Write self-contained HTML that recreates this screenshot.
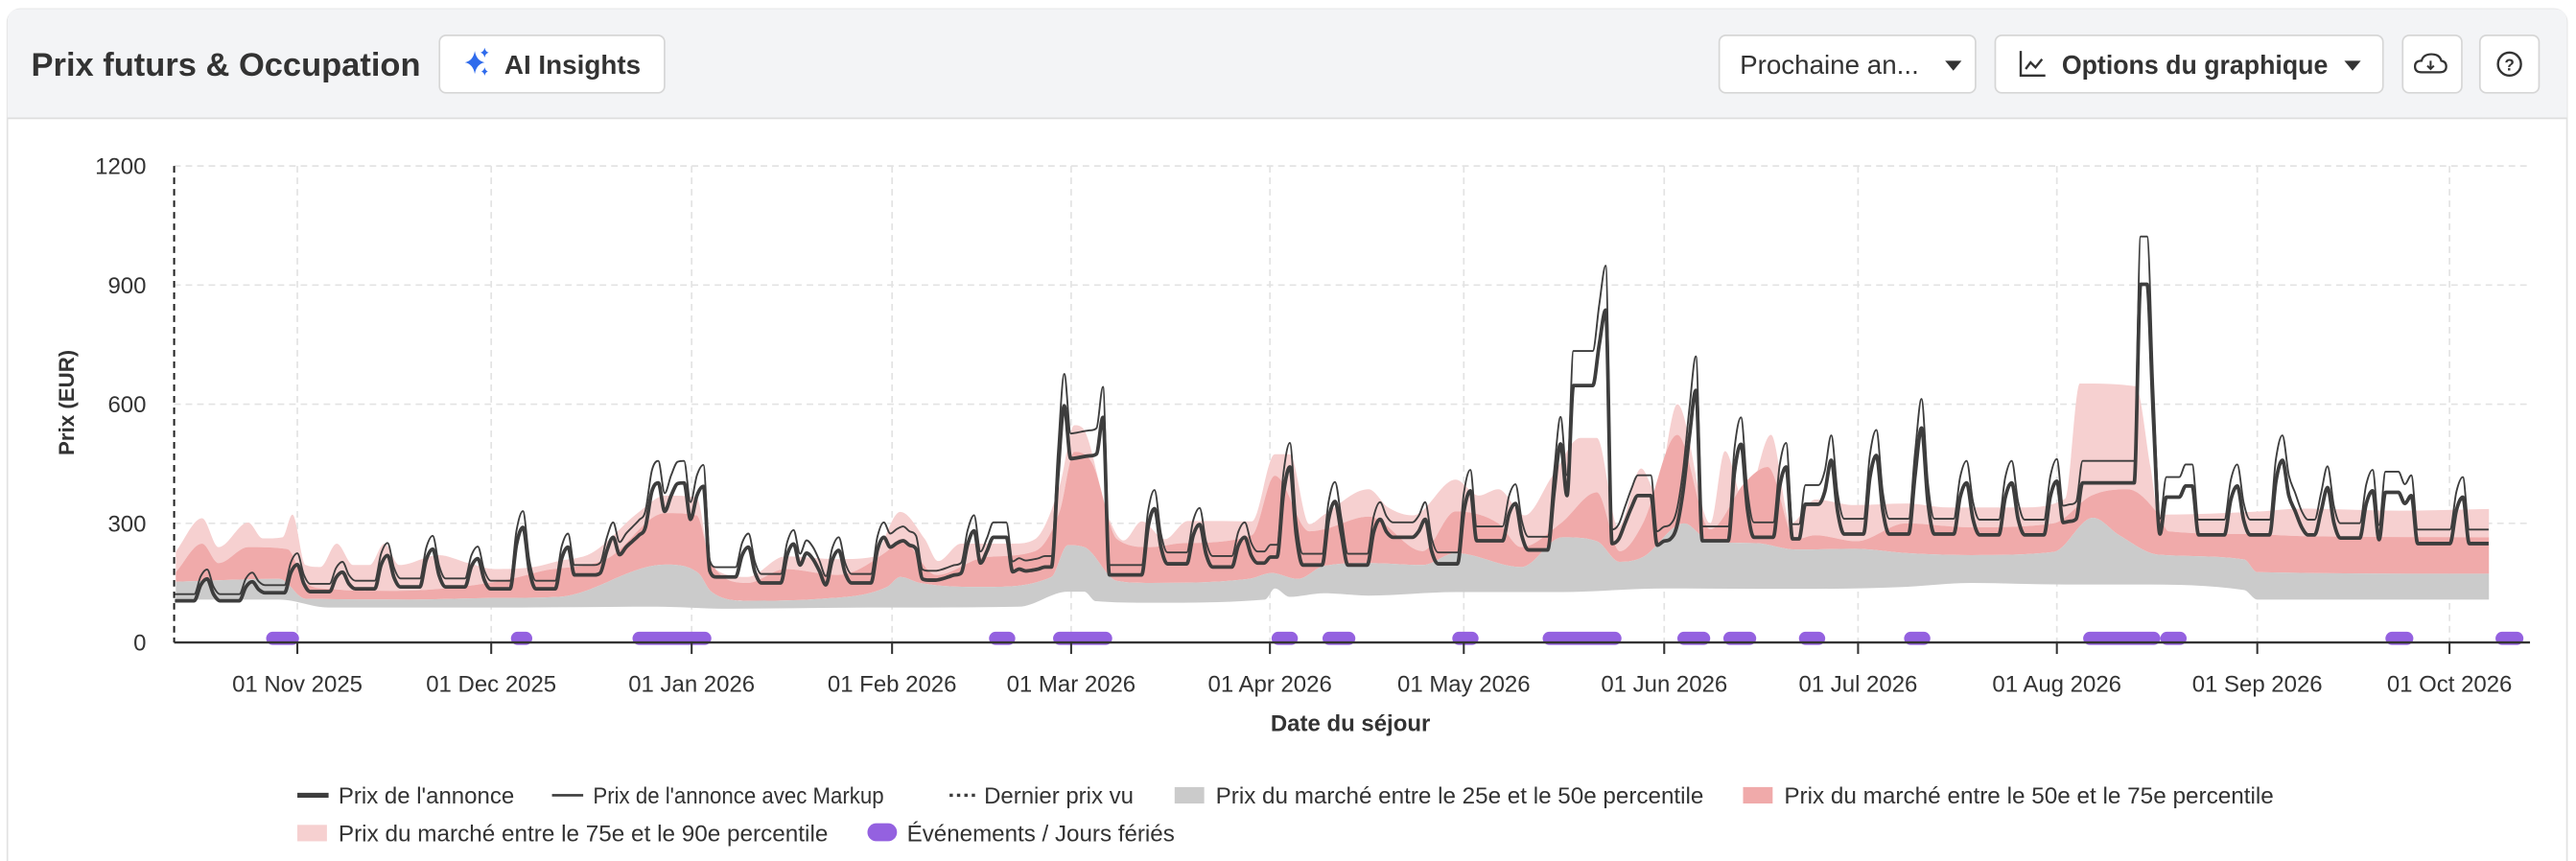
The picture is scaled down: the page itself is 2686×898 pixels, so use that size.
<!DOCTYPE html>
<html><head><meta charset="utf-8">
<style>
html,body{margin:0;padding:0;background:#fff;}
svg{display:block;}
text{font-family:"Liberation Sans",sans-serif;fill:#333;}
</style></head>
<body>
<svg id="s" width="2686" height="898" viewBox="0 0 1568 524" preserveAspectRatio="none" xmlns="http://www.w3.org/2000/svg">
<rect x="0" y="0" width="1568" height="524" fill="#fff"/>
<rect x="4.5" y="5.5" width="1558" height="540" rx="8" fill="#fff" stroke="#e2e2e2"/>
<path d="M4.5 72 V13.5 Q4.5 5.5 12.5 5.5 H1554.5 Q1562.5 5.5 1562.5 13.5 V72 Z" fill="#f3f4f6"/>
<line x1="4.5" y1="72" x2="1562.5" y2="72" stroke="#dedede"/>
<text x="19" y="46" font-size="20" font-weight="bold" textLength="237" lengthAdjust="spacingAndGlyphs">Prix futurs &amp; Occupation</text>
<rect x="267.5" y="21.5" width="137" height="35" rx="4" fill="#fff" stroke="#d6d6d6"/>
<path d="M289 31 Q290 37 295 38 Q290 39 289 45 Q288 39 283 38 Q288 37 289 31 Z" fill="#2f6bec"/>
<path d="M295 29 Q295.5 31.5 297.5 32 Q295.5 32.5 295 35 Q294.5 32.5 292.5 32 Q294.5 31.5 295 29 Z" fill="#2f6bec"/>
<path d="M295 41 Q295.5 43 297 43.5 Q295.5 44 295 46 Q294.5 44 293 43.5 Q294.5 43 295 41 Z" fill="#2f6bec"/>
<text x="307" y="45" font-size="16" font-weight="bold" textLength="83" lengthAdjust="spacingAndGlyphs">AI Insights</text>
<rect x="1046.5" y="21.5" width="156" height="35" rx="4" fill="#fff" stroke="#d6d6d6"/>
<text x="1059" y="45" font-size="16" textLength="109" lengthAdjust="spacingAndGlyphs">Prochaine an...</text>
<path d="M1184 37 L1194 37 L1189 43 Z" fill="#333"/>
<rect x="1214.5" y="21.5" width="236" height="35" rx="4" fill="#fff" stroke="#d6d6d6"/>
<path d="M1230 31 V46 H1245 M1233 42 L1236 38 L1239 41 L1243 36" fill="none" stroke="#333" stroke-width="1.4"/>
<text x="1255" y="45" font-size="16" font-weight="bold" textLength="162" lengthAdjust="spacingAndGlyphs">Options du graphique</text>
<path d="M1427 37 L1437 37 L1432 43 Z" fill="#333"/>
<rect x="1462.5" y="21.5" width="36" height="35" rx="4" fill="#fff" stroke="#d6d6d6"/>
<path d="M1474 44 Q1470 44 1470 40.5 Q1470 37 1474 37 Q1475 33 1480 33 Q1485 33 1486 37 Q1489 37.5 1489 40.5 Q1489 44 1485 44 Z" fill="none" stroke="#333" stroke-width="1.3"/>
<path d="M1479.5 37 V42 M1477.5 40 L1479.5 42 L1481.5 40" fill="none" stroke="#333" stroke-width="1.2"/>
<rect x="1509.5" y="21.5" width="36" height="35" rx="4" fill="#fff" stroke="#d6d6d6"/>
<circle cx="1527.5" cy="39" r="7" fill="none" stroke="#333" stroke-width="1.4"/>
<text x="1527.5" y="43" font-size="10" font-weight="bold" text-anchor="middle">?</text>
<g id="grid"></g>
<g id="bands"></g>
<g id="lines"></g>
<g id="events"></g>
<g id="axes"></g>
<g id="legend">
<line x1="181" y1="484" x2="200" y2="484" stroke="#3d3d3d" stroke-width="3"/>
<text x="206" y="489" font-size="14" textLength="107" lengthAdjust="spacingAndGlyphs">Prix de l'annonce</text>
<line x1="336" y1="484" x2="355" y2="484" stroke="#3d3d3d" stroke-width="1.5"/>
<text x="361" y="489" font-size="14" textLength="177" lengthAdjust="spacingAndGlyphs">Prix de l'annonce avec Markup</text>
<line x1="578" y1="484" x2="594" y2="484" stroke="#3d3d3d" stroke-width="2" stroke-dasharray="2 2.5"/>
<text x="599" y="489" font-size="14" textLength="91" lengthAdjust="spacingAndGlyphs">Dernier prix vu</text>
<rect x="715" y="479" width="18" height="10" fill="#cbcbcb"/>
<text x="740" y="489" font-size="14" textLength="297" lengthAdjust="spacingAndGlyphs">Prix du marché entre le 25e et le 50e percentile</text>
<rect x="1061" y="479" width="18" height="10" fill="#f0aaaa"/>
<text x="1086" y="489" font-size="14" textLength="298" lengthAdjust="spacingAndGlyphs">Prix du marché entre le 50e et le 75e percentile</text>
<rect x="181" y="502" width="18" height="10" fill="#f6d0d0"/>
<text x="206" y="512" font-size="14" textLength="298" lengthAdjust="spacingAndGlyphs">Prix du marché entre le 75e et le 90e percentile</text>
<rect x="528" y="501" width="18" height="11" rx="5.5" fill="#9461e0"/>
<text x="552" y="512" font-size="14" textLength="163" lengthAdjust="spacingAndGlyphs">Événements / Jours fériés</text>
</g>
</svg>
<script>
var NS="http://www.w3.org/2000/svg";
function el(p,t,a,txt){var e=document.createElementNS(NS,t);for(var k in a)e.setAttribute(k,a[k]);if(txt!==undefined)e.textContent=txt;document.getElementById(p).appendChild(e);return e;}
function X(d){return 181+d*3.923;}
function Y(v){return 391-v*0.24167;}
function mono(pts,start){
 var n=pts.length,dx=[],m=[],t=[];
 for(var i=0;i<n-1;i++){dx[i]=pts[i+1][0]-pts[i][0];m[i]=(pts[i+1][1]-pts[i][1])/dx[i];}
 t[0]=m[0];t[n-1]=m[n-2];
 for(i=1;i<n-1;i++){t[i]=(m[i-1]*m[i]<=0)?0:(m[i-1]+m[i])/2;}
 for(i=0;i<n-1;i++){if(m[i]===0){t[i]=0;t[i+1]=0;continue;}var a=t[i]/m[i],b=t[i+1]/m[i],s=a*a+b*b;if(s>9){var tau=3/Math.sqrt(s);t[i]=tau*a*m[i];t[i+1]=tau*b*m[i];}}
 var d=(start?"M":"L")+pts[0][0].toFixed(2)+" "+pts[0][1].toFixed(2);
 for(i=0;i<n-1;i++){var h=dx[i]/3;d+=" C"+(pts[i][0]+h).toFixed(2)+" "+(pts[i][1]+t[i]*h).toFixed(2)+" "+(pts[i+1][0]-h).toFixed(2)+" "+(pts[i+1][1]-t[i+1]*h).toFixed(2)+" "+pts[i+1][0].toFixed(2)+" "+pts[i+1][1].toFixed(2);}
 return d;}
var months=[["01 Nov 2025",181],["01 Dec 2025",299],["01 Jan 2026",421],["01 Feb 2026",543],["01 Mar 2026",652],["01 Apr 2026",773],["01 May 2026",891],["01 Jun 2026",1013],["01 Jul 2026",1131],["01 Aug 2026",1252],["01 Sep 2026",1374],["01 Oct 2026",1491]];
[1200,900,600,300].forEach(function(v){el("grid","line",{x1:106,x2:1540,y1:Y(v),y2:Y(v),stroke:"#e3e3e3","stroke-width":1,"stroke-dasharray":"4 3"});});
months.forEach(function(m){el("grid","line",{x1:m[1],x2:m[1],y1:101,y2:391,stroke:"#e3e3e3","stroke-width":1,"stroke-dasharray":"4 3"});});
var P90=[[107,229],[123,313],[133,240],[151,302],[160,262],[172,265],[178,322],[186,195],[195,190],[205,249],[215,195],[225,195],[234,249],[243,195],[267,220],[285,200],[301,185],[325,190],[340,205],[360,225],[389,329],[405,370],[424,365],[433,193],[455,165],[478,217],[510,210],[531,215],[548,329],[563,260],[571,205],[585,249],[617,249],[630,260],[645,394],[654,547],[659,540],[675,313],[684,257],[695,305],[709,260],[723,306],[743,306],[762,305],[776,474],[785,474],[797,298],[806,322],[833,386],[845,340],[860,320],[886,410],[900,370],[912,386],[928,320],[945,420],[962,515],[972,515],[985,290],[999,438],[1008,380],[1021,600],[1041,300],[1050,482],[1062,350],[1078,523],[1090,300],[1105,360],[1129,346],[1160,350],[1186,340],[1230,340],[1257,362],[1266,652],[1300,645],[1309,442],[1314,322],[1376,330],[1400,337],[1460,332],[1515,336]];
var P75=[[107,177],[123,249],[133,200],[151,240],[175,235],[186,150],[200,135],[240,130],[280,140],[311,160],[330,180],[370,212],[405,326],[424,320],[433,200],[455,150],[478,185],[510,170],[540,230],[548,260],[570,170],[600,215],[630,230],[645,330],[654,480],[665,450],[680,260],[700,240],[720,250],[762,270],[776,420],[797,280],[806,285],[833,317],[866,230],[886,330],[912,300],[926,240],[950,300],[972,378],[986,230],[1000,300],[1021,523],[1041,285],[1062,402],[1076,442],[1093,260],[1105,270],[1130,255],[1160,300],[1200,290],[1250,300],[1273,370],[1295,386],[1314,322],[1320,280],[1370,273],[1400,268],[1515,265]];
var P50=[[107,153],[170,160],[186,110],[250,108],[300,112],[340,115],[405,196],[425,175],[433,128],[455,105],[500,110],[540,140],[548,165],[560,150],[600,140],[640,165],[650,245],[660,240],[680,155],[700,150],[760,160],[774,175],[790,160],[806,193],[833,200],[866,195],[886,225],[926,190],[951,265],[972,255],[986,203],[1000,215],[1025,300],[1041,255],[1069,250],[1093,234],[1129,236],[1161,225],[1200,220],[1250,228],[1274,314],[1290,270],[1314,221],[1366,209],[1374,177],[1515,173]];
var P25=[[107,108],[170,108],[200,88],[300,88],[400,90],[440,85],[540,88],[620,90],[650,128],[660,128],[667,104],[700,100],[770,108],[776,136],[785,115],[806,124],[833,118],[886,127],[950,127],[1013,136],[1100,135],[1160,140],[1200,150],[1257,146],[1300,146],[1366,132],[1374,108],[1515,108]];
function cv(a){return a.map(function(p){return [p[0],Y(p[1])];});}
function band(up,lo,fill){var u=cv(up),l=cv(lo).reverse();el("bands","path",{d:mono(u,true)+" "+mono(l,false)+" Z",fill:fill});}
band(P90,P75,"#f6d0d0");band(P75,P50,"#f0aaaa");band(P50,P25,"#cbcbcb");
var W=[[-14,160,105],[-7,153,105],[0,196,125],[7,177,128],[14,219,135],[21,235,140],[28,211,140],[35,290,135],[42,240,135],
[70,240,165],[77,248,150],[84,232,145],[91,265,150],[105,281,160],
[133,337,170],[140,297,198],[147,265,190],[154,442,200],[161,355,195],[168,310,195],[175,310,265],[182,382,198],[189,350,256],[196,500,233],
[224,499,256],[231,442,265],[238,459,261],[245,471,273],[252,540,273],[259,402,273],[266,402,271],[273,406,271],[301,394,271],[308,459,271],[315,390,263],[322,382,263],[336,366,249]];
var v={};
W.forEach(function(w){var s=w[0];for(var d=s-6;d<=s-2;d++)v[d]=w[2];v[s-1]=w[2]+0.72*(w[1]-w[2]);v[s]=w[1];});
W.forEach(function(w){var s=w[0];var nb=v[s+2];if(nb!==undefined&&v[s+1]!==undefined){v[s+1]=nb+0.3*(w[1]-nb);}});
v[-19]=105;
var O={43:170,44:170,45:170,46:170,47:175,48:230,49:265,50:221,51:240,52:255,53:270,54:290,55:380,56:402,57:330,58:370,59:400,60:402,61:310,62:370,63:393,64:180,65:165,
78:195,79:225,80:210,81:180,
92:240,93:250,94:256,95:245,96:235,97:160,98:157,99:157,100:160,101:165,102:170,103:175,
106:200,107:230,108:265,109:265,110:265,111:178,112:185,113:180,114:182,115:185,116:190,117:190,118:420,119:596,120:463,121:465,122:468,123:470,124:475,125:567,126:170,127:170,128:170,
151:215,152:215,162:273,174:280,176:230,177:198,178:198,179:198,180:198,183:256,
195:380,197:370,198:647,199:647,200:647,201:647,202:750,203:837,204:249,205:260,206:300,207:340,208:370,209:370,210:370,211:245,212:255,213:260,214:290,215:380,216:520,217:635,218:256,
232:261,233:261,234:348,235:348,236:348,237:380,251:420,
274:302,275:305,276:311,277:402,278:402,279:402,280:402,281:402,282:402,283:402,284:402,285:402,286:902,287:902,288:560,289:273,290:366,291:366,292:366,293:394,294:394,295:271,296:271,297:271,298:271,299:271,
309:370,310:330,311:290,312:271,313:271,314:330,323:259,324:378,325:378,326:378,327:350,328:370,329:249,330:249,331:249,332:249,333:249,334:249,337:249,338:249,339:249,340:249};
for(var k in O)v[k]=O[k];
var thick=[],thin=[],last=105;
for(var d=-19;d<=340;d++){
 var val=v[d];
 if(val===undefined){var nx=d+1;while(v[nx]===undefined&&nx<341)nx++;var nv=v[nx]!==undefined?v[nx]:last;val=last+(nv-last)/(nx-d+1);}
 last=val;
 thick.push([X(d),Y(val)]);thin.push([X(d),Y(val*1.13+3)]);
}
el("lines","path",{d:mono(thin,true),fill:"none",stroke:"#3d3d3d","stroke-width":1.1,"stroke-linejoin":"round"});
el("lines","path",{d:mono(thick,true),fill:"none",stroke:"#3d3d3d","stroke-width":2.2,"stroke-linejoin":"round"});
[[162,182],[311,324],[385,433],[602,618],[641,677],[774,790],[805,825],[884,900],[939,987],[1021,1041],[1049,1069],[1095,1111],[1159,1175],[1268,1315],[1315,1331],[1452,1469],[1519,1536]].forEach(function(e){
 el("events","rect",{x:e[0],y:384.5,width:e[1]-e[0],height:8,rx:4,fill:"#9461e0"});});
el("axes","line",{x1:106,x2:106,y1:101,y2:391,stroke:"#222","stroke-width":1.2,"stroke-dasharray":"4 3"});
el("axes","line",{x1:106,x2:1540,y1:391,y2:391,stroke:"#333","stroke-width":1.4});
months.forEach(function(m){
 el("axes","line",{x1:m[1],x2:m[1],y1:391,y2:398,stroke:"#333","stroke-width":1.2});
 el("axes","text",{x:m[1],y:421,"font-size":14,"text-anchor":"middle"},m[0]);});
[[1200,"1200"],[900,"900"],[600,"600"],[300,"300"],[0,"0"]].forEach(function(t){
 el("axes","text",{x:89,y:Y(t[0])+5,"font-size":14,"text-anchor":"end"},t[1]);});
el("axes","text",{x:822,y:445,"font-size":14,"font-weight":"bold","text-anchor":"middle"},"Date du séjour");
el("axes","text",{x:0,y:0,"font-size":13,"font-weight":"bold","text-anchor":"middle",transform:"translate(45,245) rotate(-90)"},"Prix (EUR)");
</script>
</body></html>
